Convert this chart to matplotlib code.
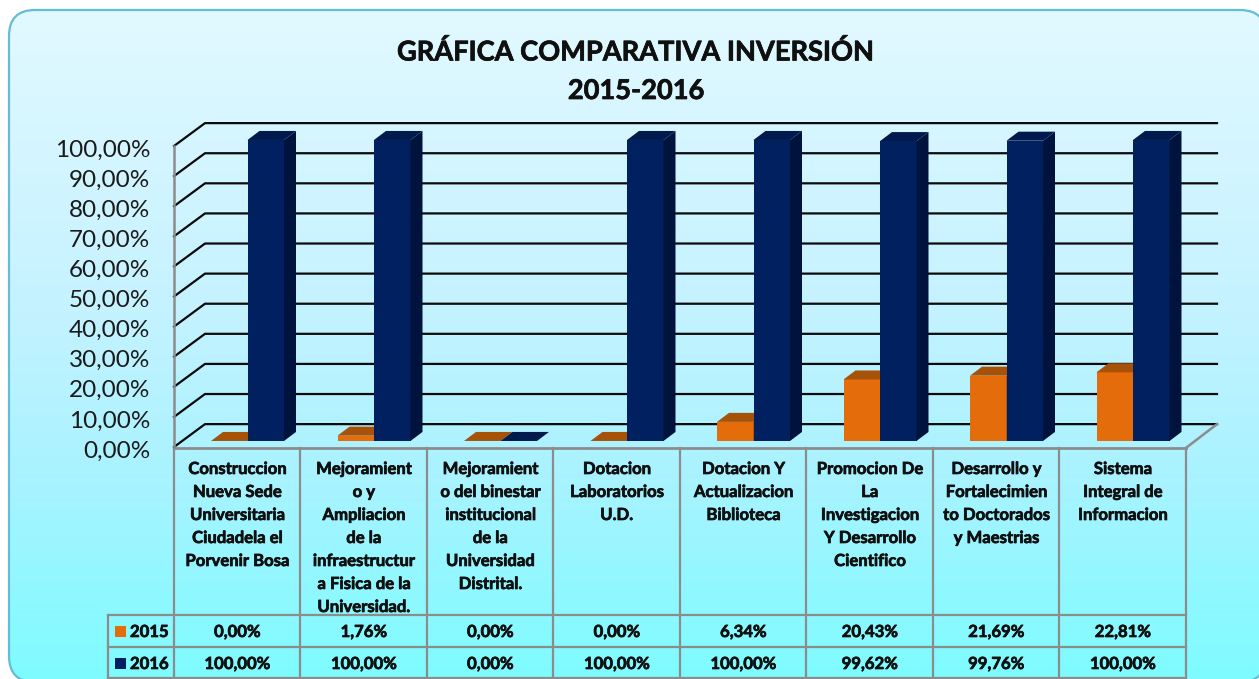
import numpy as np
import matplotlib
matplotlib.use("Agg")
import matplotlib.pyplot as plt
import matplotlib.patheffects as pe
from matplotlib.patches import FancyBboxPatch, Polygon, Rectangle
from matplotlib.colors import LinearSegmentedColormap
from matplotlib.transforms import Affine2D

categories = [
    "Construccion\nNueva Sede\nUniversitaria\nCiudadela el\nPorvenir Bosa",
    "Mejoramient\no y\nAmpliacion\nde la\ninfraestructur\na Fisica de la\nUniversidad.",
    "Mejoramient\no del binestar\ninstitucional\nde la\nUniversidad\nDistrital.",
    "Dotacion\nLaboratorios\nU.D.",
    "Dotacion Y\nActualizacion\nBiblioteca",
    "Promocion De\nLa\nInvestigacion\nY Desarrollo\nCientifico",
    "Desarrollo y\nFortalecimien\nto Doctorados\ny Maestrias",
    "Sistema\nIntegral de\nInformacion",
]
v2015 = [0.00, 1.76, 0.00, 0.00, 6.34, 20.43, 21.69, 22.81]
v2016 = [100.00, 100.00, 0.00, 100.00, 100.00, 99.62, 99.76, 100.00]
yticks = [0, 10, 20, 30, 40, 50, 60, 70, 80, 90, 100]

W, H = 1259, 679
plt.rcParams["font.family"] = ["Lato", "DejaVu Sans"]

# thickens the bold text a little
heavy = [pe.withStroke(linewidth=0.5, foreground="#101010")]


def pct(v):
    return ("%.2f%%" % v).replace(".", ",")


def bold(x, y, s, size, ha="center"):
    bg.text(x, y, s, ha=ha, va="center", fontsize=size, fontweight="bold",
            color="#101010", path_effects=heavy, zorder=5)


fig = plt.figure(figsize=(W / 100, H / 100), dpi=100, facecolor="white")

# full figure axes in pixels: background, table, title
bg = fig.add_axes([0, 0, 1, 1])
bg.axis("off")

cmap = LinearSegmentedColormap.from_list(
    "bg", [(0, "#e2f9ff"), (0.45, "#c4f2ff"), (0.7, "#a8f3ff"), (1, "#7dfcff")])
grad = np.linspace(0, 1, 256).reshape(-1, 1)
im = bg.imshow(grad, cmap=cmap, extent=[9, 1266, 682, 10], aspect="auto", zorder=0)
# rounded box flattened to a polygon, the curves go wrong when cut at the figure edge
rounded = FancyBboxPatch((9, 10), 1257, 672, boxstyle="round,pad=0,rounding_size=26")
outline = rounded.get_path().to_polygons()[0]
box = Polygon(outline, closed=True, fc="none", ec="#63bdd6", lw=1.6, zorder=1, clip_on=False)
bg.add_patch(box)
im.set_clip_path(box)
bg.set_xlim(0, W)
bg.set_ylim(H, 0)

bold(636, 52, "GRÁFICA COMPARATIVA INVERSIÓN", 19.6)
bold(636, 91, "2015-2016", 19.6)

# table
x0, x1 = 174, 1186
cw = (x1 - x0) / len(categories)
grey = "#8c8c8c"
for i in range(len(categories) + 1):
    bg.plot([x0 + i * cw] * 2, [448, 678], color=grey, lw=1.6, zorder=3)
bg.plot([108, 108], [615, 678], color=grey, lw=1.6, zorder=3)
bg.plot([x0, x1], [448, 448], color=grey, lw=2, zorder=3)
for y in [615, 647, 678]:
    bg.plot([108, x1], [y, y], color=grey, lw=1.6, zorder=3)

for i, c in enumerate(categories):
    cx = x0 + (i + 0.5) * cw
    for j, line in enumerate(c.split("\n")):
        bold(cx, 469 + j * 23, line, 12)
    bold(cx, 632, pct(v2015[i]), 12)
    bold(cx, 664, pct(v2016[i]), 12)

for y, name, col in [(631, "2015", "#e46c0a"), (663, "2016", "#002060")]:
    bg.add_patch(Rectangle((115, y - 5.5), 11, 11, fc=col, ec="none", zorder=4))
    bold(130, y + 1, name, 12, ha="left")

# plot axes, front plane: x in categories, y in percent
ax = fig.add_axes([x0 / W, 1 - 447 / H, (x1 - x0) / W, (447 - 146) / H])
ax.set_xlim(0, len(categories))
ax.set_ylim(0, 100)
ax.patch.set_alpha(0)
for s in ax.spines.values():
    s.set_visible(False)
ax.spines["left"].set_visible(True)
ax.spines["left"].set_color(grey)
ax.spines["left"].set_linewidth(1.8)
ax.set_xticks([])
ax.set_yticks(yticks)
ax.set_yticklabels([pct(t) for t in yticks], fontsize=17.5, color="#1a1a1a",
                   va="center_baseline")
ax.tick_params(axis="y", length=0, pad=17)
for lab in ax.get_yticklabels():
    lab.set_transform(lab.get_transform() + Affine2D().translate(0, -2))

# 3D look: wall offset and bar offset
wall_dx, wall_dy = 31 / cw, 7.6
bar_dx, bar_dy = 12 / cw, 3.0
floor = 2.0
bw = 36.5 / cw

for t in yticks:
    ax.plot([0, wall_dx, len(categories) + wall_dx], [t, t + wall_dy, t + wall_dy],
            color="#0a0a0a", lw=1.6, clip_on=False, zorder=1)
ax.plot([len(categories), len(categories) + wall_dx], [-0.3, wall_dy], color=grey, lw=1.8,
        clip_on=False, zorder=1)


def bar3d(left, v, front, side, top):
    ax.bar(left, v, bw, bottom=floor, align="edge", color=front, zorder=3, clip_on=False)
    r = left + bw
    t = floor + v
    ax.add_patch(Polygon([(r, floor), (r + bar_dx, floor + bar_dy), (r + bar_dx, t + bar_dy), (r, t)],
                         fc=side, ec="none", zorder=3, clip_on=False))
    ax.add_patch(Polygon([(left, t), (left + bar_dx, t + bar_dy), (r + bar_dx, t + bar_dy), (r, t)],
                         fc=top, ec="none", zorder=3, clip_on=False))


for i in range(len(categories)):
    bar3d(i + 37 / cw, v2015[i], "#e46c0a", "#8a4506", "#a65309")
    bar3d(i + 73.5 / cw, v2016[i], "#002060", "#00133c", "#001a4d")

fig.savefig("out.png", dpi=100)
